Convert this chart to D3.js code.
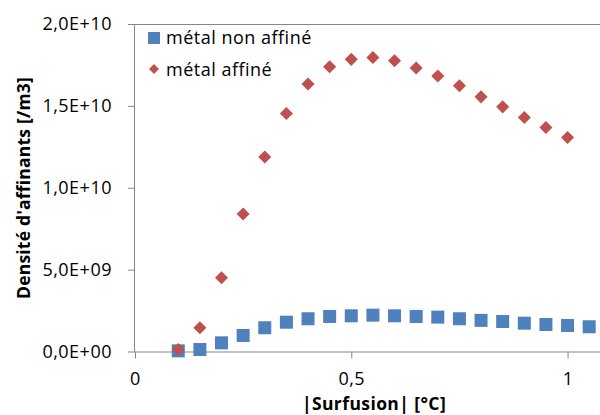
<!DOCTYPE html>
<html><head><meta charset="utf-8">
<script src="https://cdn.jsdelivr.net/npm/d3@7"></script>
<style>
html,body{margin:0;padding:0;background:#fff;}
svg{display:block;font-family:"Open Sans",sans-serif;}
</style></head>
<body>
<svg id="chart" width="600" height="415"></svg>
<script>
const xValuesNonAffine = [0.1,0.15,0.2,0.25,0.3,0.35,0.4,0.45,0.5,0.55,0.6,0.65,0.7,0.75,0.8,0.85,0.9,0.95,1.0,1.05];
const nonAffine = [0.04e9,0.12e9,0.53e9,0.98e9,1.45e9,1.79e9,2.0e9,2.14e9,2.18e9,2.22e9,2.18e9,2.14e9,2.10e9,2.0e9,1.9e9,1.83e9,1.73e9,1.65e9,1.59e9,1.51e9];
const xValuesAffine = [0.1,0.15,0.2,0.25,0.3,0.35,0.4,0.45,0.5,0.55,0.6,0.65,0.7,0.75,0.8,0.85,0.9,0.95,1.0];
const affine = [0.12e9,1.45e9,4.5e9,8.4e9,11.88e9,14.54e9,16.33e9,17.39e9,17.84e9,17.96e9,17.76e9,17.31e9,16.82e9,16.23e9,15.55e9,14.94e9,14.29e9,13.68e9,13.07e9];
const seriesNames = ["métal non affiné","métal affiné"];
const yTicks = [0,5e9,1e10,1.5e10,2e10];
const yTickLabels = ["0,0E+00","5,0E+09","1,0E+10","1,5E+10","2,0E+10"];
const xTicks = [0,0.5,1];
const xTickLabels = ["0","0,5","1"];
const xTitle = "|Surfusion| [°C]";
const yTitle = "Densité d'affinants [/m3]";

const blue = "#4F81BD", red = "#C0504D", axisColor = "#868686";
const font = "'Open Sans', sans-serif";
const svg = d3.select("#chart");
const mLeft = 135, mTop = 24, mBottom = 351.5, mRight = 600;
const x = d3.scaleLinear().domain([0, 1.075]).range([mLeft, mRight]);
const y = d3.scaleLinear().domain([0, 2e10]).range([mBottom, mTop]);

// top border
svg.append("line").attr("x1", mLeft).attr("x2", mRight).attr("y1", mTop+0.5).attr("y2", mTop+0.5)
  .attr("stroke", axisColor).attr("stroke-width", 1);

const yAxis = svg.append("g").attr("transform", `translate(${mLeft},0)`)
  .call(d3.axisLeft(y).tickValues(yTicks).tickFormat((d,i)=>yTickLabels[i]).tickSize(7).tickPadding(16));
const xAxis = svg.append("g").attr("transform", `translate(0,${mBottom})`)
  .call(d3.axisBottom(x).tickValues(xTicks).tickFormat((d,i)=>xTickLabels[i]).tickSize(7).tickPadding(14));
[yAxis, xAxis].forEach(g=>{
  g.select(".domain").attr("stroke", axisColor);
  g.selectAll(".tick line").attr("stroke", axisColor);
  g.selectAll(".tick text").attr("fill", "#000").style("font-size", "18px")
    .style("font-family", font).style("letter-spacing", "0.5px");
});
yAxis.select(".domain").attr("d", `M-0.5,${mTop}V${mBottom}`);
xAxis.select(".domain").attr("d", `M${mLeft},0.5H${mRight}`);

// markers
svg.append("g").selectAll("rect").data(nonAffine).join("rect")
  .attr("x", (d,i)=>x(xValuesNonAffine[i]) - 6.5)
  .attr("y", d=>y(d) - 6.5)
  .attr("width", 13).attr("height", 13).attr("fill", blue);

const diamond = d3.symbol().type(d3.symbolSquare).size(85);
svg.append("g").selectAll("path").data(affine).join("path")
  .attr("d", diamond)
  .attr("transform", (d,i)=>`translate(${x(xValuesAffine[i])},${y(d)}) rotate(45)`)
  .attr("fill", red);

// legend
const leg = svg.append("g");
leg.append("rect").attr("x", 148).attr("y", 32).attr("width", 12).attr("height", 12).attr("fill", blue);
leg.append("path").attr("d", d3.symbol().type(d3.symbolSquare).size(50))
  .attr("transform", "translate(154,69) rotate(45)").attr("fill", red);
leg.selectAll("text").data(seriesNames).join("text")
  .attr("x", 166).attr("y", (d,i)=> i===0 ? 44 : 76)
  .style("font-size", "18px").style("letter-spacing", "0.5px").attr("fill", "#000").text(d=>d);

// titles
svg.append("text").attr("x", 374).attr("y", 410).attr("text-anchor", "middle")
  .style("font-size", "17.5px").style("font-weight", "bold").style("letter-spacing", "0.4px").text(xTitle);
svg.append("text").attr("transform", "translate(30,188) rotate(-90)").attr("text-anchor", "middle")
  .style("font-size", "17.5px").style("font-weight", "bold").style("letter-spacing", "0.2px").text(yTitle);
</script>
</body></html>
